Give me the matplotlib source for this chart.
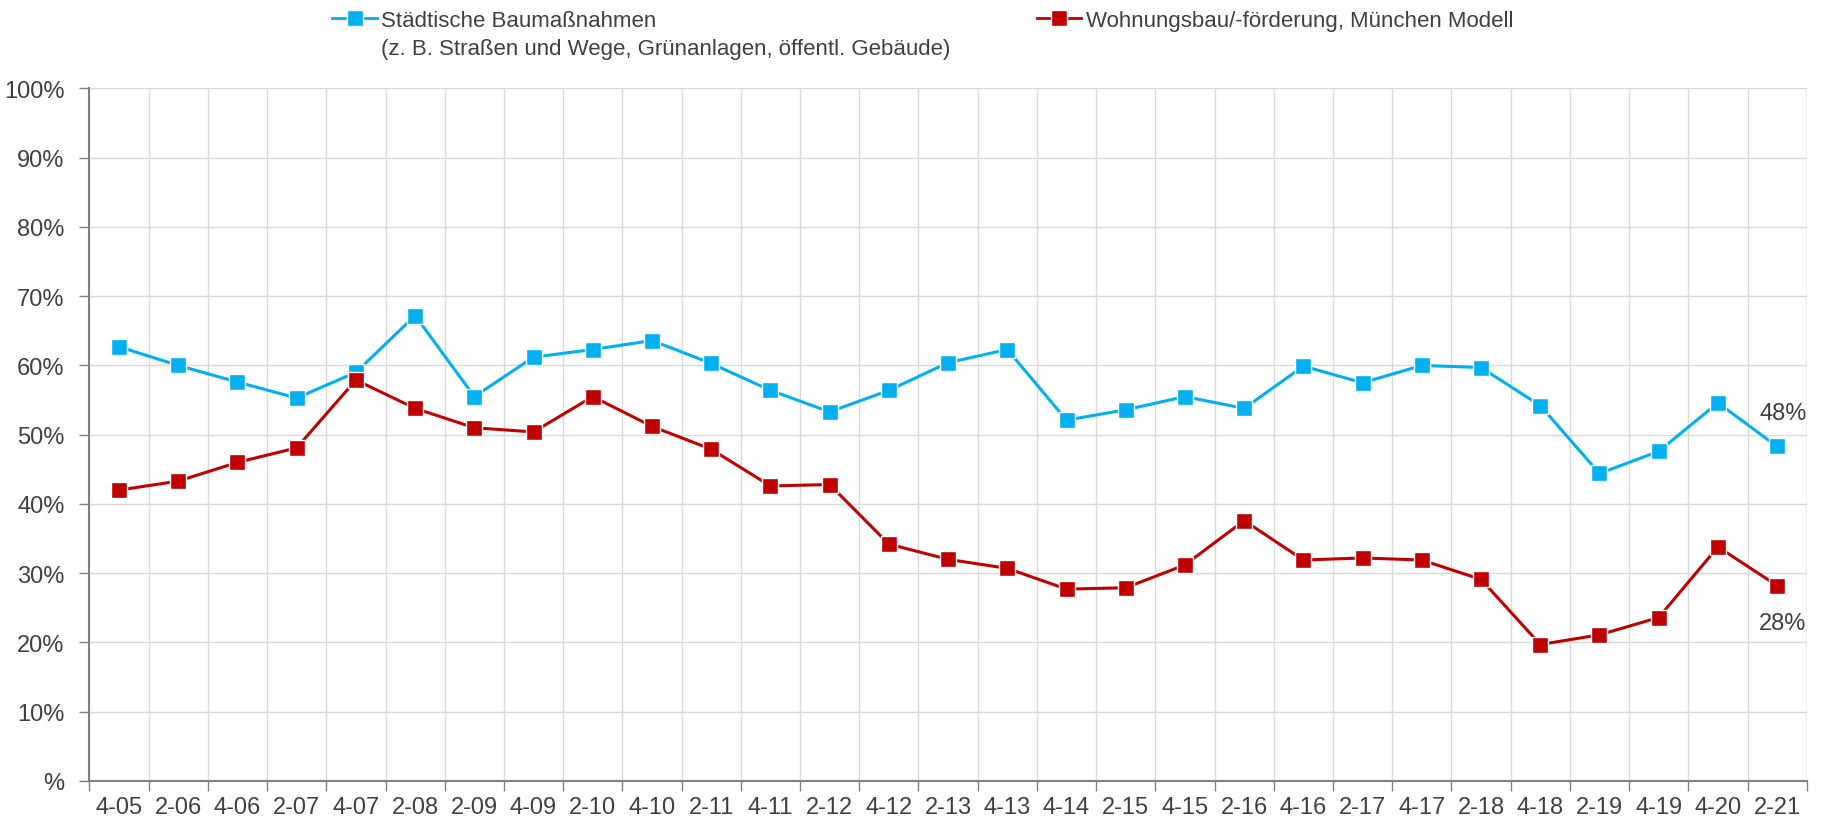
import matplotlib.pyplot as plt
from matplotlib.lines import Line2D

# Daten
quartale = ['4-05', '2-06', '4-06', '2-07', '4-07', '2-08', '2-09', '4-09', '2-10', '4-10',
            '2-11', '4-11', '2-12', '4-12', '2-13', '4-13', '4-14', '2-15', '4-15', '2-16',
            '4-16', '2-17', '4-17', '2-18', '4-18', '2-19', '4-19', '4-20', '2-21']
bau_staedtisch = [62.7, 60.0, 57.6, 55.3, 59.0, 67.2, 55.5, 61.2, 62.3, 63.6,
                  60.3, 56.4, 53.3, 56.4, 60.4, 62.3, 52.1, 53.6, 55.5, 53.8,
                  59.9, 57.5, 60.0, 59.7, 54.2, 44.4, 47.6, 54.6, 48.3]
wohnungsbau = [42.0, 43.3, 46.0, 48.1, 57.9, 53.8, 51.0, 50.4, 55.5, 51.2,
               47.9, 42.6, 42.8, 34.2, 32.0, 30.7, 27.7, 27.9, 31.2, 37.6,
               31.9, 32.2, 31.9, 29.1, 19.7, 21.1, 23.6, 33.8, 28.2]
label_blau = 'Städtische Baumaßnahmen'
label_blau2 = '(z. B. Straßen und Wege, Grünanlagen, öffentl. Gebäude)'
label_rot = 'Wohnungsbau/-förderung, München Modell'

blau = '#00B0F0'
rot = '#C00000'
grau_text = '#404040'

plt.rcParams['font.family'] = ['Liberation Sans', 'DejaVu Sans']

fig = plt.figure(figsize=(18.25, 8.28), dpi=100)
ax = fig.add_axes([0.049, 0.0556, 0.941, 0.8364])

x = list(range(len(quartale)))
ax.plot(x, bau_staedtisch, color=blau, lw=2.2, marker='s', ms=12,
        mfc=blau, mec='white', mew=1, zorder=3)
ax.plot(x, wohnungsbau, color=rot, lw=2.2, marker='s', ms=12,
        mfc=rot, mec='white', mew=1, zorder=4)

ax.set_xlim(-0.5, len(quartale) - 0.5)
ax.set_ylim(0, 100)

ax.set_yticks(range(0, 101, 10))
ax.set_yticklabels(['%'] + [f'{v}%' for v in range(10, 101, 10)])
ax.set_xticks(x)
ax.set_xticklabels(quartale)
ax.set_xticks([i - 0.5 for i in range(len(quartale) + 1)], minor=True)

ax.tick_params(axis='x', which='major', length=0, pad=11, labelsize=17, labelcolor=grau_text)
ax.tick_params(axis='x', which='minor', length=7, color='#808080', width=1)
ax.tick_params(axis='y', length=7, color='#808080', width=1, pad=11, labelsize=17,
               labelcolor=grau_text)

ax.grid(axis='y', which='major', color='#d9d9d9', lw=1)
ax.grid(axis='x', which='minor', color='#d9d9d9', lw=1)
ax.set_axisbelow(True)
for s in ['top', 'right']:
    ax.spines[s].set_visible(False)
for s in ['left', 'bottom']:
    ax.spines[s].set_color('#808080')
    ax.spines[s].set_linewidth(1.5)
ax.axvline(len(quartale) - 0.5, color='#d9d9d9', lw=1, zorder=0)

# Endwerte beschriften
ax.annotate(f'{round(bau_staedtisch[-1])}%', (x[-1], bau_staedtisch[-1]),
            xytext=(4, 24), textcoords='offset points', ha='center', va='center',
            fontsize=17, color=grau_text)
ax.annotate(f'{round(wohnungsbau[-1])}%', (x[-1], wohnungsbau[-1]),
            xytext=(4, -27), textcoords='offset points', ha='center', va='center',
            fontsize=17, color=grau_text)

# Legende
h_blau = Line2D([], [], color=blau, lw=2, marker='s', ms=11, mfc=blau, mec='white')
h_rot = Line2D([], [], color=rot, lw=2, marker='s', ms=11, mfc=rot, mec='white')
leg1 = fig.legend([h_blau], [label_blau], loc='center left', bbox_to_anchor=(0.176, 0.974),
                  frameon=False, fontsize=16, handlelength=2.0, handletextpad=0.2,
                  borderpad=0, labelcolor=grau_text)
leg2 = fig.legend([h_rot], [label_rot], loc='center left', bbox_to_anchor=(0.562, 0.974),
                  frameon=False, fontsize=16, handlelength=2.0, handletextpad=0.2,
                  borderpad=0, labelcolor=grau_text)
fig.canvas.draw()
bb = leg1.get_texts()[0].get_window_extent()
fig.text(bb.x0 / fig.bbox.width, 0.940, label_blau2, fontsize=16, color=grau_text,
         ha='left', va='center')

fig.savefig('out.png', dpi=100)
